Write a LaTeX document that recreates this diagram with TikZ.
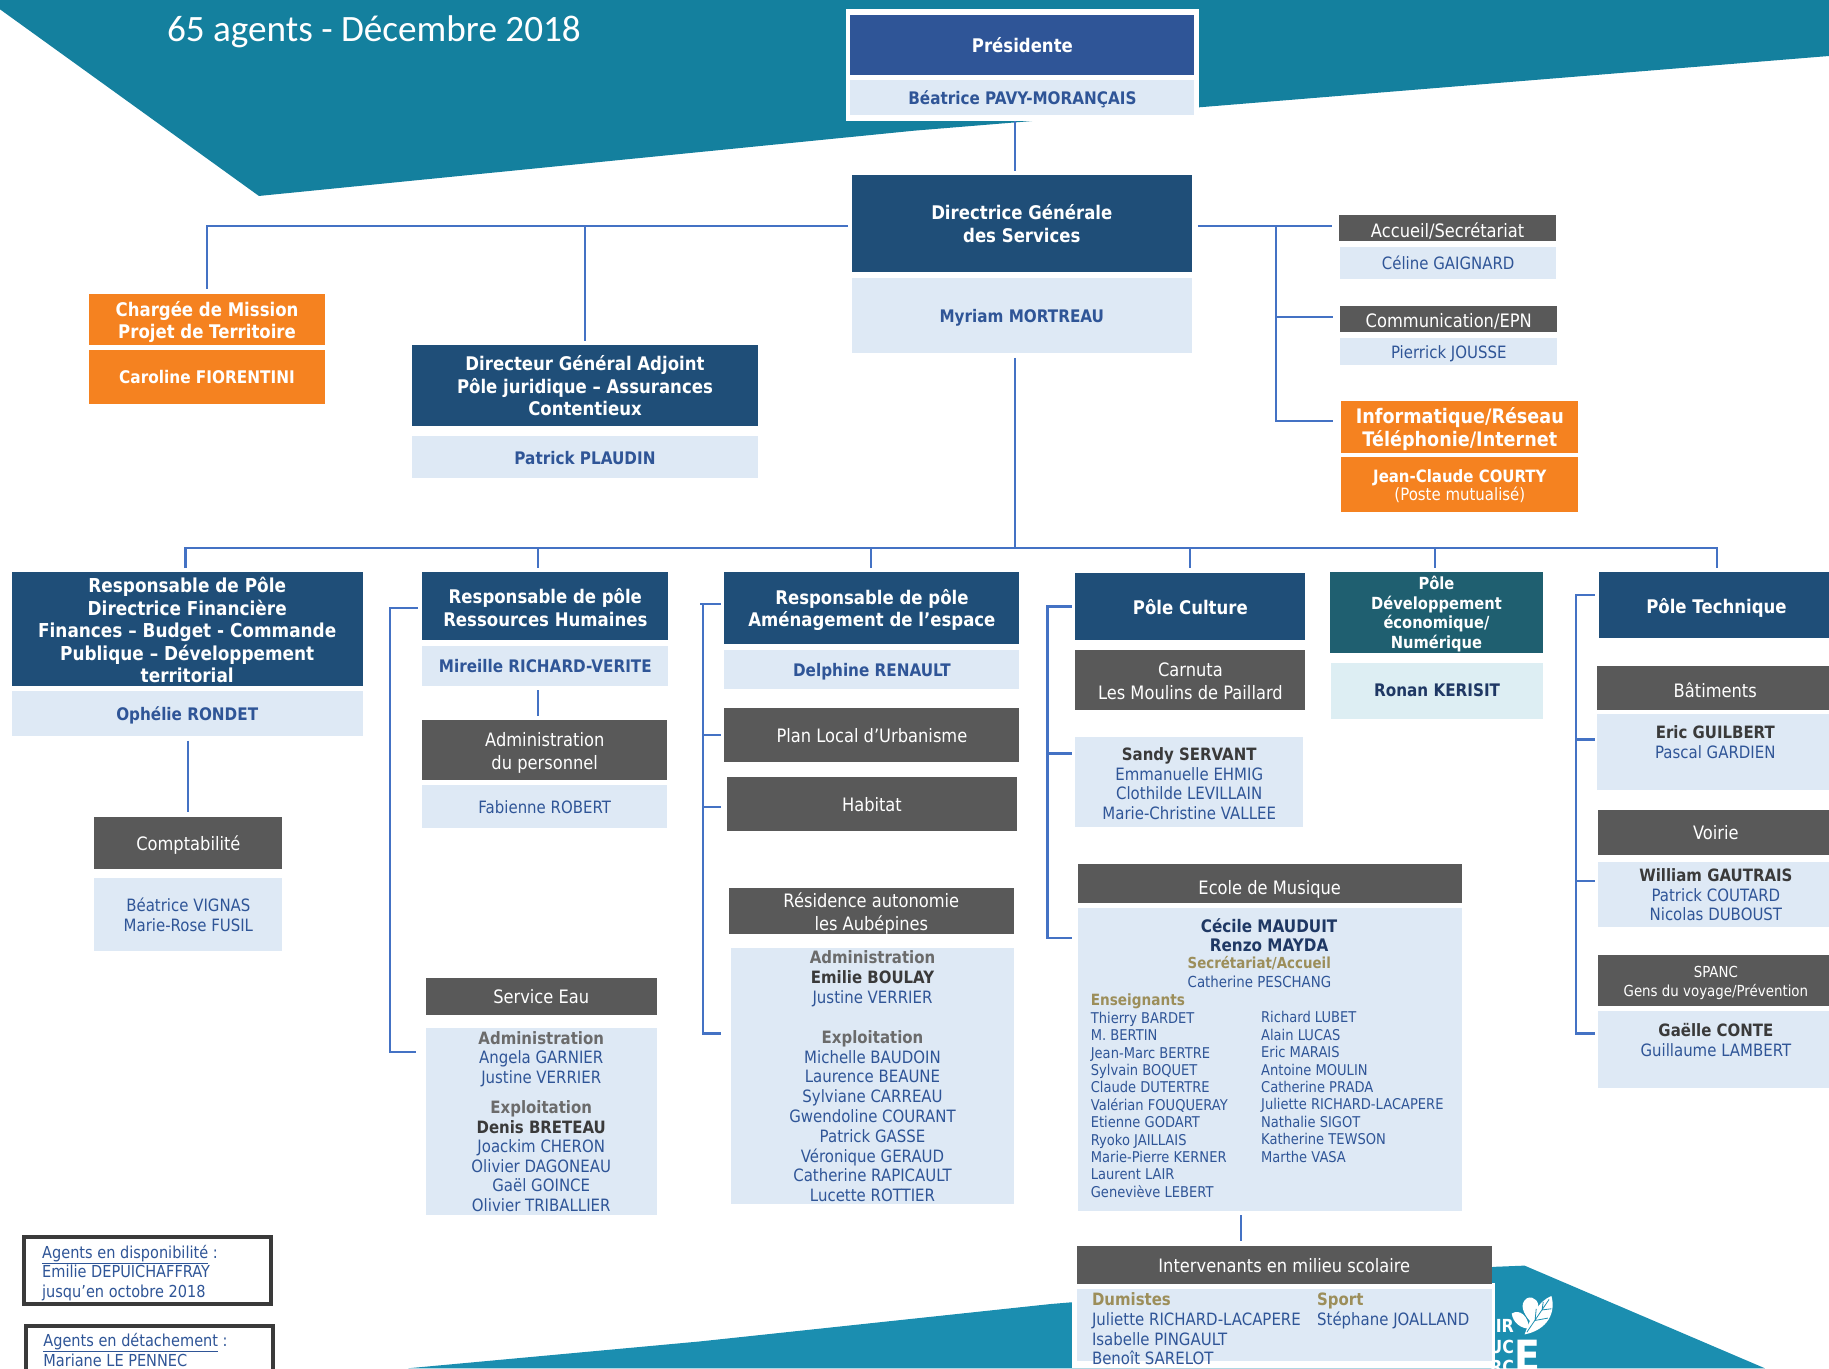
\documentclass[tikz,border=0pt]{standalone}
\usepackage{fontspec}
\setmainfont[FakeStretch=0.88]{DejaVu Sans}
\newfontfamily\titlefont{Carlito}
\usetikzlibrary{calc}
\definecolor{teal1}{HTML}{14809E}
\definecolor{teal2}{HTML}{1B8EB0}
\definecolor{navy}{HTML}{1F4E78}
\definecolor{royal}{HTML}{2F5597}
\definecolor{pale}{HTML}{DEE9F5}
\definecolor{grayhead}{HTML}{595959}
\definecolor{orangebox}{HTML}{F58220}
\definecolor{tealdark}{HTML}{1F5F70}
\definecolor{palecyan}{HTML}{DDEEF3}
\definecolor{linkblue}{HTML}{4472C4}
\definecolor{olive}{HTML}{9C8E5A}
\definecolor{midgray}{HTML}{6B6B6B}
\definecolor{inkdark}{HTML}{3A3A3A}
\definecolor{inknavy}{HTML}{1F3864}
\tikzset{
  base/.style={inner sep=0pt,outer sep=0pt,align=center,font=\fontsize{17}{19.8}\selectfont},
  navybox/.style={base,fill=navy,text=white,font=\bfseries\fontsize{18.8}{22.4}\selectfont},
  royalbox/.style={navybox,fill=royal},
  tealbox/.style={navybox,fill=tealdark,font=\bfseries\fontsize{16.7}{19.6}\selectfont},
  orangehead/.style={navybox,fill=orangebox},
  grayhead/.style={base,fill=grayhead,text=white,font=\fontsize{18.5}{23}\selectfont},
  palebox/.style={base,fill=pale,text=royal},
  palename/.style={palebox,font=\bfseries\fontsize{17.3}{20}\selectfont},
  linktrunk/.style={draw=linkblue,line width=2.2pt},
  legendbox/.style={draw=inkdark,line width=4pt,fill=white},
  legendtext/.style={inner sep=0pt,align=left,text=royal,anchor=north west,font=\fontsize{16.5}{19.6}\selectfont},
  listtext/.style={inner sep=0pt,align=left,text=royal,anchor=north west,font=\fontsize{14.85}{17.4}\selectfont},
  logotext/.style={inner sep=0pt,anchor=east,text=white,font=\bfseries\fontsize{18}{18}\selectfont},
  x=1.1665pt,y=-1.1665pt
}
\newcommand{\bx}[7][base]{\node[#1,minimum width={(#5-#3)*1.1665},minimum height={(#6-#4)*1.1665}] (#2) at ({(#3+#5)/2},{(#4+#6)/2}) {#7};}
\newcommand{\dn}[2]{\raisebox{\dimexpr-#1-.35em\relax}[0pt][0pt]{\begin{tabular}{@{}c@{}}#2\end{tabular}}}
\newcommand{\dk}[1]{{\bfseries\color{inkdark}#1}}
\newcommand{\nv}[1]{{\bfseries\color{inknavy}#1}}
\newcommand{\ol}[1]{{\bfseries\color{olive}#1}}
\newcommand{\gr}[1]{{\bfseries\color{midgray}#1}}
\begin{document}
\begin{tikzpicture}
\useasboundingbox (0,0) rectangle (1568,1173);
\clip (0,0) rectangle (1568,1173);
% background shapes
\fill[teal1] (0,0) -- (1568,0) -- (1568,48) -- (1028,92) -- (784,112) -- (222,168) -- (0,8) -- cycle;
\fill[teal2] (350,1173) -- (600,1150) -- (900,1118) -- (1282,1086) -- (1307,1085) -- (1513,1173) -- cycle;
% logo fragments
\fill[white] (1296,1126) .. controls (1303,1122) and (1310,1128) .. (1311,1139) .. controls (1304,1139) and (1297,1134) .. (1296,1126) -- cycle;
\fill[white] (1312,1133) .. controls (1306,1126) and (1302,1118) .. (1309,1113) .. controls (1315,1110) and (1321,1117) .. (1318,1123) .. controls (1316,1127) and (1314,1129) .. (1312,1133) -- cycle;
\fill[white] (1307,1144) .. controls (1313,1128) and (1318,1116) .. (1330,1111) .. controls (1334,1125) and (1327,1140) .. (1307,1144) -- cycle;
\draw[teal2,line width=0.8pt] (1309,1142) -- (1328,1114) (1316,1132) -- (1317,1122) (1316,1132) -- (1327,1130) (1322,1123) -- (1323,1116) (1322,1123) -- (1330,1122);
\node[logotext] (lgA) at (1298,1137) {IR};
\node[logotext] (lgB) at (1298,1155) {UC};
\node[logotext] (lgC) at (1298,1172) {RC};
\node[inner sep=0pt,anchor=base west,text=white,font=\bfseries\fontsize{43}{43}\selectfont] (lgD) at (1298,1176) {E};
\fill[white] (919,1100) rectangle (1282,1173);
% title
\node[inner sep=0pt,anchor=west,text=white,font=\titlefont\fontsize{37.2}{40}\selectfont] (title) at (143,27) {65 agents - Décembre 2018};
% top
\bx[base,fill=white]{prezframe}{725}{8}{1028}{104}{}
\bx[royalbox]{prez}{729}{13}{1024}{64}{Présidente}
\bx[palename]{prezn}{729}{69}{1024}{99}{\dn{1.2pt}{Béatrice PAVY-MORANÇAIS}}
\bx[navybox]{dgs}{730}{150}{1022}{233}{\dn{1pt}{Directrice Générale\\des Services}}
\bx[palename]{dgsn}{730}{238}{1022}{303}{\dn{1pt}{Myriam MORTREAU}}
% upper left
\bx[orangehead]{cm}{76}{252}{279}{296}{\dn{1pt}{Chargée de Mission\\Projet de Territoire}}
\bx[orangehead,font=\bfseries\fontsize{17.4}{20}\selectfont]{cmn}{76}{300}{279}{346}{Caroline FIORENTINI}
\bx[navybox]{dga}{353}{296}{650}{365}{\dn{1pt}{Directeur Général Adjoint\\Pôle juridique -- Assurances\\Contentieux}}
\bx[palename]{dgan}{353}{374}{650}{410}{\dn{1.2pt}{Patrick PLAUDIN}}
% upper right
\bx[grayhead]{acc}{1148}{184}{1334}{207}{\dn{3pt}{Accueil/Secrétariat}}
\bx[palebox]{accn}{1149}{212}{1334}{239}{Céline GAIGNARD}
\bx[grayhead]{com}{1149}{262}{1335}{285}{\dn{2pt}{Communication/EPN}}
\bx[palebox]{comn}{1149}{290}{1335}{313}{\dn{1pt}{Pierrick JOUSSE}}
\bx[orangehead,font=\bfseries\fontsize{20}{22}\selectfont]{inf}{1150}{344}{1353}{388}{\dn{1.7pt}{Informatique/Réseau\\Téléphonie/Internet}}
\bx[base,fill=orangebox,text=white]{infn}{1150}{392}{1353}{439}{\dn{1pt}{{\bfseries Jean-Claude COURTY}\\[-2pt](Poste mutualisé)}}
% column 1
\bx[navybox,font=\bfseries\fontsize{19.2}{22.5}\selectfont]{rf}{10}{490}{311}{588}{\dn{3pt}{Responsable de Pôle\\Directrice Financière\\Finances -- Budget - Commande\\Publique -- Développement\\territorial}}
\bx[palename]{rfn}{10}{592}{311}{631}{\dn{1pt}{Ophélie RONDET}}
\bx[grayhead]{cpt}{81}{700}{242}{745}{\dn{.6pt}{Comptabilité}}
\bx[palebox]{cptn}{81}{753}{242}{815}{\dn{1pt}{Béatrice VIGNAS\\Marie-Rose FUSIL}}
% column 2
\bx[navybox]{rh}{362}{490}{573}{549}{\dn{2.3pt}{Responsable de pôle\\Ressources Humaines}}
\bx[palename]{rhn}{362}{554}{573}{588}{Mireille RICHARD-VERITE}
\bx[grayhead]{adp}{362}{617}{572}{669}{\dn{1pt}{Administration\\du personnel}}
\bx[palebox]{adpn}{362}{673}{572}{710}{\dn{1.7pt}{Fabienne ROBERT}}
\bx[grayhead]{eau}{365}{838}{563}{870}{Service Eau}
\bx[palebox,font=\fontsize{17}{19.6}\selectfont]{eaun}{365}{881}{563}{1042}{\gr{Administration}\\Angela GARNIER\\Justine VERRIER\\[10.5pt]\gr{Exploitation}\\\dk{Denis BRETEAU}\\Joackim CHERON\\Olivier DAGONEAU\\Gaël GOINCE\\Olivier TRIBALLIER}
% column 3
\bx[navybox]{am}{621}{490}{874}{552}{\dn{1pt}{Responsable de pôle\\Aménagement de l’espace}}
\bx[palename]{amn}{621}{557}{874}{591}{\dn{1.2pt}{Delphine RENAULT}}
\bx[grayhead]{plu}{621}{607}{874}{653}{\dn{.6pt}{Plan Local d’Urbanisme}}
\bx[grayhead]{hab}{623}{666}{872}{712}{\dn{1.2pt}{Habitat}}
\bx[grayhead]{res}{625}{761}{869}{801}{\dn{1.2pt}{Résidence autonomie\\les Aubépines}}
\bx[palebox]{resn}{627}{813}{869}{1032}{\dn{1.2pt}{\gr{Administration}\\\dk{Emilie BOULAY}\\Justine VERRIER\\[20pt]\gr{Exploitation}\\Michelle BAUDOIN\\Laurence BEAUNE\\Sylviane CARREAU\\Gwendoline COURANT\\Patrick GASSE\\Véronique GERAUD\\Catherine RAPICAULT\\Lucette ROTTIER}}
% column 4
\bx[navybox]{cul}{922}{491}{1119}{549}{\dn{1.2pt}{Pôle Culture}}
\bx[grayhead]{car}{922}{557}{1119}{609}{\dn{1.2pt}{Carnuta\\Les Moulins de Paillard}}
\bx[palebox]{carn}{922}{632}{1117}{709}{\dn{2.3pt}{\dk{Sandy SERVANT}\\Emmanuelle EHMIG\\Clothilde LEVILLAIN\\Marie-Christine VALLEE}}
\bx[grayhead]{mus}{924}{741}{1253}{774}{\dn{4pt}{Ecole de Musique}}
\bx[palebox]{musn}{924}{778}{1253}{1038}{}
\node[inner sep=0pt,align=center,anchor=north,font=\fontsize{17.3}{19}\selectfont,text=royal] (mushead) at (1088,787) {\nv{Cécile MAUDUIT}\\\nv{Renzo MAYDA}};
\node[inner sep=0pt,align=left,anchor=north west,font=\fontsize{15.2}{18.6}\selectfont,text=royal] (mussec) at (1018,820) {\ol{Secrétariat/Accueil}\\Catherine PESCHANG};
\node[listtext] (lista) at (935,852) {{\fontsize{15.5}{17.4}\selectfont\ol{Enseignants}}\\Thierry BARDET\\M. BERTIN\\Jean-Marc BERTRE\\Sylvain BOQUET\\Claude DUTERTRE\\Valérian FOUQUERAY\\Etienne GODART\\Ryoko JAILLAIS\\Marie-Pierre KERNER\\Laurent LAIR\\Geneviève LEBERT};
\node[listtext] (listb) at (1081,867) {Richard LUBET\\Alain LUCAS\\Eric MARAIS\\Antoine MOULIN\\Catherine PRADA\\Juliette RICHARD-LACAPERE\\Nathalie SIGOT\\Katherine TEWSON\\Marthe VASA};
\bx[grayhead]{ims}{923}{1068}{1279}{1101}{\dn{.6pt}{Intervenants en milieu scolaire}}
\bx[palebox]{imsn}{923}{1105}{1279}{1167}{}
\node[inner sep=0pt,align=left,anchor=north west,text=royal,font=\fontsize{17}{19.8}\selectfont] (imsa) at (936,1108) {\ol{Dumistes}\\Juliette RICHARD-LACAPERE\\Isabelle PINGAULT\\Benoît SARELOT};
\node[inner sep=0pt,align=left,anchor=north west,text=royal,font=\fontsize{17}{19.8}\selectfont] (imsb) at (1129,1108) {\ol{Sport}\\Stéphane JOALLAND};
% column 5
\bx[tealbox]{dev}{1140}{490}{1323}{560}{\dn{1.2pt}{Pôle\\Développement\\économique/\\Numérique}}
\bx[base,fill=palecyan,text=inknavy,font=\bfseries\fontsize{17.3}{20}\selectfont]{devn}{1141}{568}{1323}{616}{Ronan KERISIT}
% column 6
\bx[navybox]{tec}{1371}{490}{1572}{547}{\dn{1.7pt}{Pôle Technique}}
\bx[grayhead]{bat}{1369}{571}{1572}{609}{\dn{2.3pt}{Bâtiments}}
\bx[palebox]{batn}{1369}{612}{1572}{677}{\dk{Eric GUILBERT}\\Pascal GARDIEN\\~}
\bx[grayhead]{voi}{1370}{694}{1572}{733}{Voirie}
\bx[palebox]{voin}{1370}{739}{1572}{795}{\dk{William GAUTRAIS}\\Patrick COUTARD\\Nicolas DUBOUST}
\bx[grayhead,font=\fontsize{15.2}{19.5}\selectfont]{spa}{1370}{819}{1572}{862}{\dn{1.2pt}{SPANC\\Gens du voyage/Prévention}}
\bx[palebox]{span}{1370}{867}{1572}{933}{\dn{1.2pt}{\dk{Gaëlle CONTE}\\Guillaume LAMBERT\\~}}
% legend
\node[legendbox,minimum width={211.6*1.1665},minimum height={57.6*1.1665},inner sep=0pt] (leg1) at (126.5,1089.5) {};
\node[legendtext] (leg1t) at (36,1067) {\underline{Agents en disponibilité} :\\Emilie DEPUICHAFFRAY\\jusqu’en octobre 2018};
\node[legendbox,minimum width={211*1.1665},minimum height={60*1.1665},inner sep=0pt] (leg2) at (128.2,1166.7) {};
\node[legendtext] (leg2t) at (37,1143) {\underline{Agents en détachement} :\\Mariane LE PENNEC};
% connectors
\coordinate (trunk) at (870,470);
\coordinate (rightbus) at (1094,194);
\coordinate (leftbus) at (727,194);
\coordinate (rightstart) at (1027,194);
\coordinate (cbx2) at (334,521);
\coordinate (cbx3) at (603,518);
\coordinate (cbx4) at (898,520);
\coordinate (cbx6) at (1351,510);
\draw[linktrunk,shorten >=4pt] (trunk |- prezframe.south) -- (trunk |- dgs.north);
\draw[linktrunk,shorten <=4.5pt] (trunk |- dgsn.south) -- (trunk);
\draw[linktrunk,shorten >=4.5pt] (leftbus) -| (cm.north);
\draw[linktrunk,shorten >=4.5pt] (leftbus -| dga.north) -- (dga.north);
\draw[linktrunk] (rightstart) -- (1142,194);
\draw[linktrunk] (rightbus) |- ($(inf.west)+(-7,-5)$);
\draw[linktrunk] (rightbus |- 0,272) -- (1143,272);
% bus
\draw[linktrunk] (159,487) |- (1472,470) -- (1472,487);
\foreach \xp in {461,747,1020,1230}{\draw[linktrunk] (\xp,470) -- (\xp,487);}
\draw[linktrunk,shorten <=4.5pt,shorten >=4.5pt] (161,631) -- (161,700);
\draw[linktrunk,shorten <=4.5pt,shorten >=3.5pt] (461,588) -- (461,617);
\draw[linktrunk,shorten <=4.5pt,shorten >=4.5pt] (1064,1038) -- (1064,1068);
% side brackets
\draw[linktrunk] (358,521) -- (cbx2) |- (357,902);
\draw[linktrunk] (618,518) -- (600,518) (cbx3) |- (618,886);
\draw[linktrunk] (603,630) -- (618,630) (603,692) -- (618,692);
\draw[linktrunk] (919,520) -- (cbx4) |- (919,804);
\draw[linktrunk] (898,646) -- (919,646);
\draw[linktrunk] (1367,510) -- (cbx6) |- (1367,886);
\draw[linktrunk] (1351,634) -- (1367,634) (1351,755) -- (1367,755);
\end{tikzpicture}
\end{document}
